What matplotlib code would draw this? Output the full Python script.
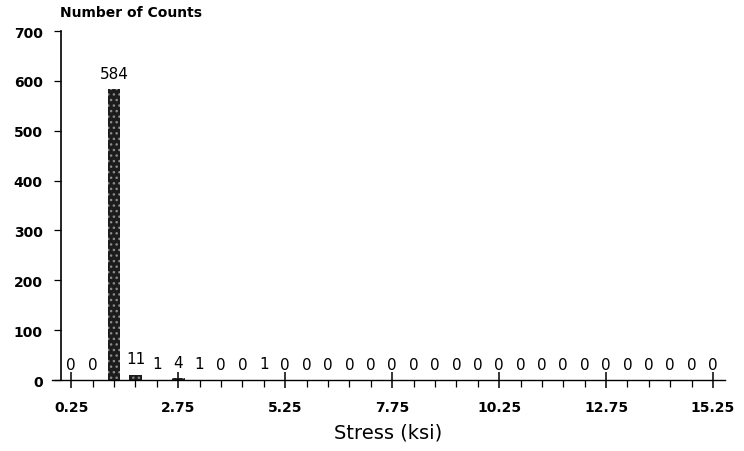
import matplotlib.pyplot as plt
import numpy as np

# Stress bins (ksi), bin centres every 0.5 ksi
stress_bins = np.arange(0.25, 15.26, 0.5)
counts = [0, 0, 584, 11, 1, 4, 1, 0, 0, 1,
          0, 0, 0, 0, 0, 0, 0, 0, 0, 0,
          0, 0, 0, 0, 0, 0, 0, 0, 0, 0, 0]
major_ticks = [0.25, 2.75, 5.25, 7.75, 10.25, 12.75, 15.25]
y_ticks = [0, 100, 200, 300, 400, 500, 600, 700]

plt.rcParams['font.family'] = ['DejaVu Sans']

fig = plt.figure(figsize=(7.44, 4.52), dpi=100)
ax = fig.add_axes([0.0699, 0.157, 0.9046, 0.772])

bars = ax.bar(stress_bins, counts, width=0.3, color='#1c1c1c',
              edgecolor='#8a8a8a', linewidth=0, hatch='...')

# value labels above each bin
for x, c in zip(stress_bins, counts):
    ax.annotate(str(c), (x, c), xytext=(0, 6), textcoords='offset points',
                ha='center', va='bottom', fontsize=11)

ax.set_xlim(-0.2, 15.53)
ax.set_ylim(0, 700)

ax.spines['top'].set_visible(False)
ax.spines['right'].set_visible(False)
ax.spines['left'].set_position(('data', 0.0))
ax.spines['left'].set_linewidth(1.2)
ax.spines['bottom'].set_linewidth(1.0)

ax.set_xticks(major_ticks)
ax.set_xticks(stress_bins, minor=True)
ax.set_xticklabels([f'{t:.2f}' for t in major_ticks], fontsize=10,
                   fontweight='bold')
ax.tick_params(axis='x', which='major', direction='inout', length=11,
               width=1.1, pad=9)
ax.tick_params(axis='x', which='minor', direction='out', length=5, width=0.9)

ax.set_yticks(y_ticks)
ax.set_yticklabels([str(t) for t in y_ticks], fontsize=10, fontweight='bold')
ax.tick_params(axis='y', direction='out', length=5, width=0.9, pad=8)

ax.set_xlabel('Stress (ksi)', fontsize=14, labelpad=6)
fig.text(0.081, 0.956, 'Number of Counts', fontsize=10, fontweight='bold',
         ha='left', va='bottom')

fig.savefig('out.png', dpi=100)
